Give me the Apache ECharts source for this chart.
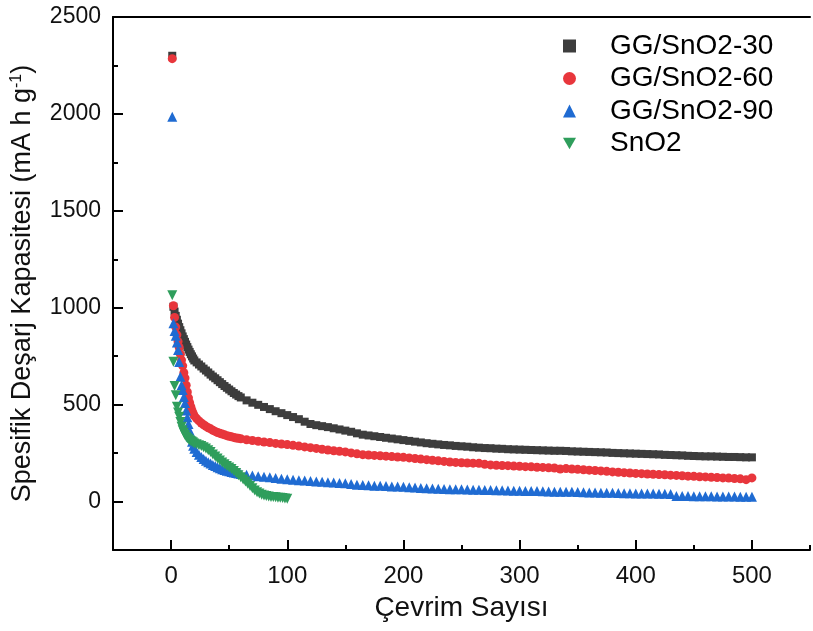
<!DOCTYPE html>
<html><head><meta charset="utf-8">
<script src="https://cdn.jsdelivr.net/npm/echarts@6/dist/echarts.min.js"></script>
<style>html,body{margin:0;padding:0;background:#fff}#c{width:813px;height:631px}</style>
</head><body><div id="c"></div>
<script>
const seriesNames = ['GG/SnO2-30', 'GG/SnO2-60', 'GG/SnO2-90', 'SnO2'];

const cyclesGG = [1,2,3,4,5,6,7,8,9,10,11,12,13,14,15,16,17,18,19,20,
  22,24,26,28,30,32,34,36,38,40,42,44,46,48,50,52,54,56,58,60,
  65,70,75,80,85,90,95,100,
  105,110,115,120,125,130,135,140,145,150,
  155,160,165,170,175,180,185,190,195,200,
  205,210,215,220,225,230,235,240,245,250,
  255,260,265,270,275,280,285,290,295,300,
  305,310,315,320,325,330,335,340,345,350,
  355,360,365,370,375,380,385,390,395,400,
  405,410,415,420,425,430,435,440,445,450,
  455,460,465,470,475,480,485,490,495,500];

const gg30 = [2300,1005,980,958,938,918,900,884,868,852,838,824,810,797,784,772,760,749,738,728,
  718,707,697,686,676,666,655,645,636,626,616,606,596,587,578,569,560,552,544,537,
  522,510,499,488,477,466,456,446,
  436,425,412,400,394,389,384,378,372,366,
  360,352,345,341,337,333,329,325,321,317,
  313,309,305,301,298,295,292,290,287,285,
  283,280,278,276,275,273,272,270,269,268,
  267,266,265,264,263,262,262,261,259,258,
  257,256,255,254,253,251,250,249,248,247,
  246,245,244,243,241,240,239,238,236,235,
  234,233,233,232,231,230,230,229,228,228];

const gg60 = [2285,1010,950,900,860,825,795,760,730,700,665,637,600,565,535,510,490,470,455,442,
  428,416,405,396,388,381,375,368,362,356,352,348,344,340,337,334,331,328,326,324,
  319,315,311,307,304,300,297,294,
  290,286,282,278,274,270,266,262,259,256,
  251,246,242,240,238,236,234,232,230,228,
  225,222,219,216,213,210,207,204,202,200,
  199,198,197,192,189,187,186,185,183,182,
  180,179,177,176,174,173,168,170,168,166,
  164,162,160,158,156,153,151,149,147,145,
  144,142,141,139,138,136,135,133,131,130,
  128,127,125,124,122,121,119,117,113,122];

const gg90 = [1985,920,880,855,820,782,720,644,600,575,540,508,470,435,400,365,335,308,288,272,
  255,242,230,220,211,203,196,189,183,177,172,167,163,159,156,153,150,147,145,142,
  138,134,131,128,125,121,118,115,
  112,110,108,106,104,102,100,98,96,95,
  91,87,85,84,82,81,80,78,77,76,
  74,72,70,68,67,66,65,64,63,63,
  62,61,61,60,59,58,58,57,56,56,
  55,54,54,53,52,51,51,50,50,49,
  48,47,47,46,45,45,44,43,43,42,
  42,41,41,40,40,39,28,28,28,27,
  27,27,27,26,26,26,26,25,25,25];

const cyclesSn = [1,2,3,4,5,6,7,8,9,10,11,12,13,14,15,16,17,18,19,20,
  22,24,26,28,30,32,34,36,38,40,42,44,46,48,50,52,54,56,58,60,
  62,64,66,68,70,72,74,76,78,80,82,84,86,88,90,92,94,96,98,100];

const sno2 = [1065,721,596,549,489,460,437,410,386,368,355,343,334,327,321,316,312,308,304,300,
  295,291,286,280,274,265,255,243,232,222,212,202,193,184,176,168,158,147,136,125,
  114,103,92,80,68,57,48,41,35,31,28,26,24,23,22,20,19,18,16,15];

const xMajorTicks = [0,100,200,300,400,500];
const yMajorTicks = [0,500,1000,1500,2000,2500];

const colors = ['#3d3d3d', '#e8363c', '#1f6bd2', '#2f9e5c'];
const symbols = ['rect', 'circle', 'triangle', 'path://M0,0 L10,0 L5,9 Z'];
const sizes = [8, 9, 10, 10];

const pairs = (xs, ys) => xs.map((x, i) => [x, ys[i]]);
const dataSets = [pairs(cyclesGG, gg30), pairs(cyclesGG, gg60), pairs(cyclesGG, gg90), pairs(cyclesSn, sno2)];

const FONT = '"Liberation Sans", Arial, sans-serif';
const axisLineStyle = { color: '#000', width: 2 };

const chart = echarts.init(document.getElementById('c'));
chart.setOption({
  backgroundColor: '#fff',
  animation: false,
  grid: { left: 113, top: 17, width: 708, height: 533, containLabel: false },
  legend: {
    orient: 'vertical', left: 558, top: 27, itemGap: 4.5,
    itemWidth: 13, itemHeight: 13,
    textStyle: { fontFamily: FONT, fontSize: 28, color: '#000', padding: [0, 0, 0, 29] },
    data: seriesNames.map((n, i) => ({ name: n, icon: symbols[i], itemStyle: { color: colors[i] } }))
  },
  xAxis: [
    {
      type: 'value', min: -50, max: 550, interval: 50,
      axisLine: { show: true, onZero: false, lineStyle: axisLineStyle },
      axisTick: { show: true, inside: true, length: 5, lineStyle: { color: '#000', width: 2 } },
      axisLabel: { margin: 14, fontFamily: FONT, fontSize: 24, color: '#111',
        formatter: v => (xMajorTicks.indexOf(v) >= 0 ? String(v) : '') },
      splitLine: { show: false },
      name: 'Çevrim Sayısı', nameLocation: 'middle', nameGap: 44,
      nameTextStyle: { fontFamily: FONT, fontSize: 28, color: '#111' }
    },
    {
      type: 'value', min: -50, max: 550, interval: 50, position: 'bottom',
      axisLine: { show: false, onZero: false },
      axisTick: { show: true, inside: true, length: 10, customValues: xMajorTicks, lineStyle: { color: '#000', width: 2 } },
      axisLabel: { show: false }, splitLine: { show: false }
    },
    {
      type: 'value', min: -50, max: 550, position: 'top',
      axisLine: { show: true, onZero: false, lineStyle: axisLineStyle },
      axisTick: { show: false }, axisLabel: { show: false }, splitLine: { show: false }
    }
  ],
  yAxis: [
    {
      type: 'value', min: -250, max: 2500, interval: 250,
      axisLine: { show: true, onZero: false, lineStyle: axisLineStyle },
      axisTick: { show: true, inside: true, length: 5, lineStyle: { color: '#000', width: 2 } },
      axisLabel: { margin: 12, fontFamily: FONT, fontSize: 23, color: '#111',
        formatter: v => (yMajorTicks.indexOf(v) >= 0 ? String(v) : '') },
      splitLine: { show: false },
      name: 'Spesifik Deşarj Kapasitesi (mA h g{sup|-1})', nameLocation: 'middle', nameGap: 76,
      nameTextStyle: { fontFamily: FONT, fontSize: 27, color: '#111',
        rich: { sup: { fontFamily: FONT, fontSize: 16, color: '#111', verticalAlign: 'top', padding: [0, 0, 12, 0] } } }
    },
    {
      type: 'value', min: -250, max: 2500, interval: 250, position: 'left',
      axisLine: { show: false, onZero: false },
      axisTick: { show: true, inside: true, length: 10, customValues: yMajorTicks, lineStyle: { color: '#000', width: 2 } },
      axisLabel: { show: false }, splitLine: { show: false }
    }
  ],
  series: seriesNames.map((n, i) => ({
    name: n, type: 'scatter', xAxisIndex: 0, yAxisIndex: 0,
    symbol: symbols[i], symbolSize: sizes[i],
    itemStyle: { color: colors[i], opacity: 1 },
    data: dataSets[i]
  }))
});
</script>
</body></html>
